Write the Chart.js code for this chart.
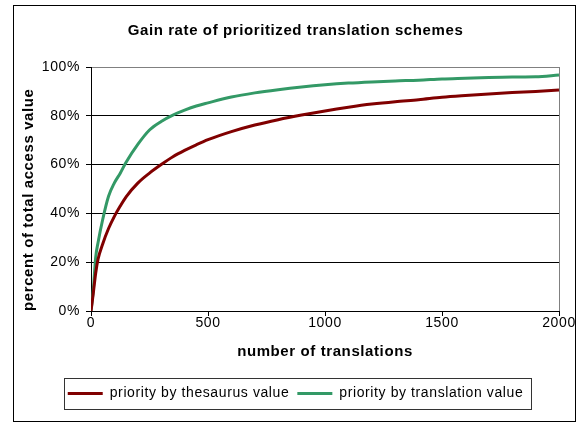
<!DOCTYPE html>
<html><head><meta charset="utf-8">
<script src="https://cdn.jsdelivr.net/npm/chart.js@4/dist/chart.umd.min.js"></script>
<style>html,body{margin:0;padding:0;background:#fff}canvas{display:block}</style>
</head><body>
<canvas id="c" width="581" height="423"></canvas>
<script>
const chartTitle = 'Gain rate of prioritized translation schemes';
const xAxisTitle = 'number of translations';
const yAxisTitle = 'percent of total access value';
const seriesNames = ['priority by thesaurus value', 'priority by translation value'];
const seriesColors = ['#800000', '#339966'];

const translations = [0, 10, 20, 30, 50, 75, 100, 125, 150, 200, 250, 300, 350, 400, 450, 500,
  600, 700, 800, 900, 1000, 1100, 1200, 1300, 1400, 1500, 1600, 1700, 1800, 1900, 2000];
const thesaurusValue = [0, 7.5, 15.5, 21.2, 27.5, 33.8, 38.8, 43, 46.8, 52.4, 56.5, 60, 63.2, 65.8, 68.1, 70.2,
  73.5, 76.2, 78.4, 80.3, 82, 83.5, 84.8, 85.8, 86.6, 87.6, 88.3, 88.9, 89.5, 90, 90.6];
const translationValue = [0, 9, 22, 28, 37.5, 47, 52.5, 56.5, 61, 68.3, 74.2, 77.7, 80.3, 82.3, 84, 85.3,
  87.7, 89.4, 90.7, 91.8, 92.7, 93.4, 93.9, 94.3, 94.6, 95.1, 95.4, 95.7, 95.9, 96.0, 96.7];

const xTicks = [0, 500, 1000, 1500, 2000];
const yTicks = [0, 20, 40, 60, 80, 100];

const FONT = '"Liberation Sans", Arial, sans-serif';
Chart.defaults.color = '#000';
Chart.defaults.font.family = FONT;

const spacing = {
  id: 'spacing',
  beforeLayout(chart) { chart.ctx.letterSpacing = '0.6px'; },
  beforeDraw(chart) { chart.ctx.letterSpacing = '0.6px'; }
};

const frame = {
  id: 'frame',
  afterDraw(chart) {
    const ctx = chart.ctx;
    ctx.save();
    ctx.strokeStyle = '#000';
    ctx.lineWidth = 1;
    ctx.strokeRect(13.5, 5.5, 562, 416);
    const hb = chart.legend.legendHitBoxes;
    if (hb && hb.length) {
      const left = Math.min(...hb.map(h => h.left)) - 4;
      const right = Math.max(...hb.map(h => h.left + h.width)) + 7;
      const cy = hb[0].top + hb[0].height / 2;
      ctx.strokeStyle = '#333';
      ctx.strokeRect(Math.round(left) + 0.5, Math.round(cy - 15.5) + 0.5, Math.round(right - left), 31);
    }
    ctx.restore();
  }
};

function pts(ys) { return translations.map((x, i) => ({x, y: ys[i]})); }

new Chart(document.getElementById('c'), {
  type: 'line',
  data: {
    datasets: [
      { label: seriesNames[0], data: pts(thesaurusValue), borderColor: seriesColors[0], backgroundColor: seriesColors[0],
        borderWidth: 3, pointRadius: 0, cubicInterpolationMode: 'monotone' },
      { label: seriesNames[1], data: pts(translationValue), borderColor: seriesColors[1], backgroundColor: seriesColors[1],
        borderWidth: 3, pointRadius: 0, cubicInterpolationMode: 'monotone' }
    ]
  },
  options: {
    responsive: false,
    animation: false,
    devicePixelRatio: 1,
    layout: { padding: { top: 0, left: 14, right: 4, bottom: 12.5 } },
    plugins: {
      title: { display: true, text: chartTitle, color: '#000',
        font: { family: FONT, size: 15, weight: 'bold' }, padding: { top: 22, bottom: 27 } },
      legend: { position: 'bottom',
        labels: { usePointStyle: true, pointStyle: 'line', pointStyleWidth: 35, padding: 8,
          color: '#000', font: { family: FONT, size: 14 } } },
      tooltip: { enabled: false }
    },
    scales: {
      x: {
        type: 'linear', position: 'bottom', min: 0, max: 2000,
        afterBuildTicks: s => { s.ticks = xTicks.map(v => ({ value: v })); },
        afterFit: s => { s.height = 67.5; s.paddingRight = 22; },
        ticks: { padding: -1, maxRotation: 0, autoSkip: false, color: '#000', font: { family: FONT, size: 14 },
          callback: v => String(v) },
        grid: { color: c => (c.tick && c.tick.value === 2000) ? '#808080' : 'rgba(0,0,0,0)', tickColor: '#000', tickLength: 5 },
        border: { display: true, color: '#000', width: 1 },
        title: { display: true, text: xAxisTitle, color: '#000', font: { family: FONT, size: 15, weight: 'bold' },
          padding: { top: 0, bottom: 17.5 } }
      },
      y: {
        min: 0, max: 100,
        afterBuildTicks: s => { s.ticks = yTicks.map(v => ({ value: v })); },
        afterFit: s => { s.width = 77; },
        ticks: { padding: 6, color: '#000', font: { family: FONT, size: 14 }, callback: v => v + '%' },
        grid: { color: c => (c.tick && c.tick.value === 100) ? '#808080' : '#000', tickColor: '#000', tickLength: 5 },
        border: { display: true, color: '#000', width: 1 },
        title: { display: true, text: yAxisTitle, align: 'start', color: '#000',
          font: { family: FONT, size: 15, weight: 'bold' }, padding: { top: 6, bottom: 0 } }
      }
    }
  },
  plugins: [spacing, frame]
});
</script>
</body></html>
